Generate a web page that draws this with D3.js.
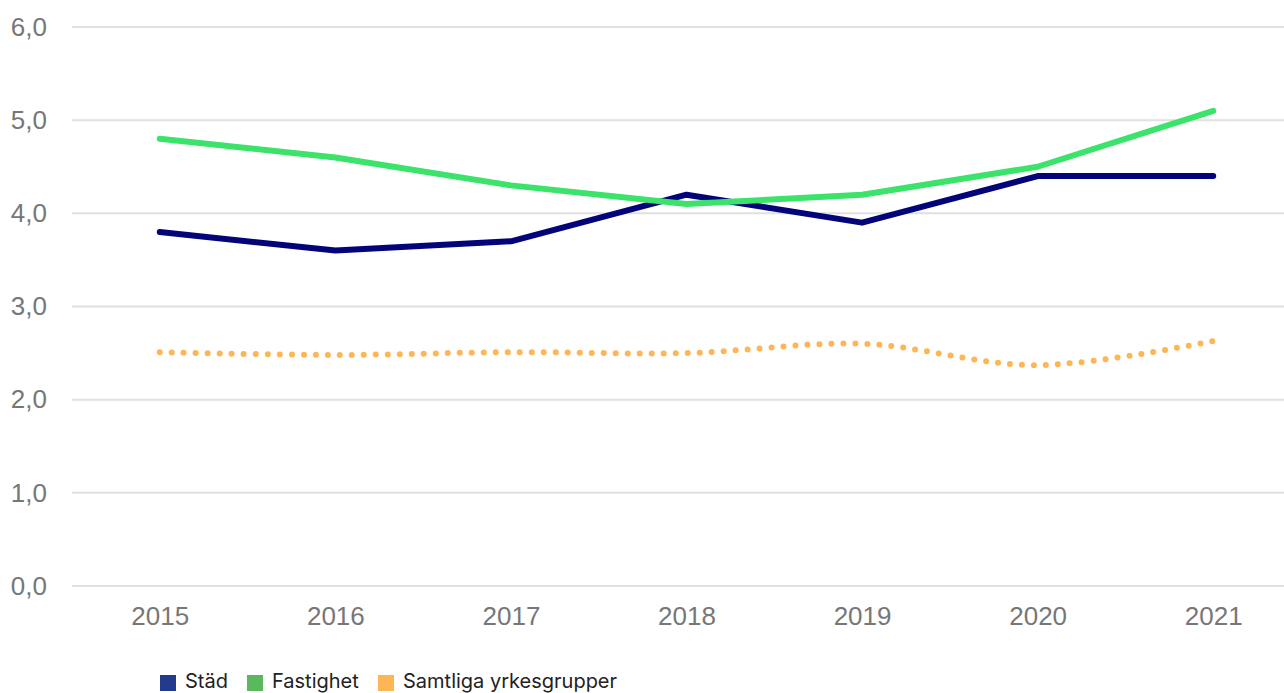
<!DOCTYPE html>
<html>
<head>
<meta charset="utf-8">
<script src="https://cdn.jsdelivr.net/npm/d3@7"></script>
<style>
  body { margin: 0; background: #fff; }
  svg { display: block; }
</style>
</head>
<body>
<svg></svg>
<script>
const years = ['2015', '2016', '2017', '2018', '2019', '2020', '2021'];
const stad = [3.8, 3.6, 3.7, 4.2, 3.9, 4.4, 4.4];
const fastighet = [4.8, 4.6, 4.3, 4.1, 4.2, 4.5, 5.1];
const samtliga = [2.51, 2.48, 2.51, 2.50, 2.60, 2.37, 2.63];
const yTicks = [0, 1, 2, 3, 4, 5, 6];
const legendNames = ['Städ', 'Fastighet', 'Samtliga yrkesgrupper'];

let w = 1284;
let h = 693;

let svg = d3.select('svg').attr('width', w).attr('height', h);

let xSc = d3.scalePoint()
            .domain(years)
            .range([72, 1301])
            .padding(0.5);

let ySc = d3.scaleLinear()
            .domain([0, 6])
            .range([586, 27]);

// gridlines
svg.append('g')
   .selectAll('line')
   .data(yTicks)
   .enter()
   .append('line')
   .attr('x1', 72)
   .attr('x2', w)
   .attr('y1', d => ySc(d))
   .attr('y2', d => ySc(d))
   .attr('stroke', '#e0e0e0')
   .attr('stroke-width', 2);

// y axis labels
let yAxis = d3.axisLeft(ySc)
              .tickValues(yTicks)
              .tickSize(0)
              .tickPadding(0)
              .tickFormat(d => d3.format('.1f')(d).replace('.', ','));
svg.append('g')
   .attr('transform', 'translate(47, 0)')
   .call(yAxis)
   .call(g => g.select('.domain').remove())
   .selectAll('text')
   .attr('fill', '#777')
   .style('font-family', 'Liberation Sans, Arial, sans-serif')
   .style('font-size', '26px');

// x axis labels
let xAxis = d3.axisBottom(xSc).tickSize(0).tickPadding(0);
svg.append('g')
   .attr('transform', 'translate(0, 607)')
   .call(xAxis)
   .call(g => g.select('.domain').remove())
   .selectAll('text')
   .attr('fill', '#777')
   .style('font-family', 'Liberation Sans, Arial, sans-serif')
   .style('font-size', '26px');

let line = d3.line()
             .x((d, i) => xSc(years[i]))
             .y(d => ySc(d));

let smooth = d3.line()
               .x((d, i) => xSc(years[i]))
               .y(d => ySc(d))
               .curve(d3.curveCatmullRom.alpha(0.5));

svg.append('path')
   .attr('d', smooth(samtliga))
   .attr('fill', 'none')
   .attr('stroke', '#ffb554')
   .attr('stroke-width', 6)
   .attr('stroke-linecap', 'round')
   .attr('stroke-dasharray', '0 12');

svg.append('path')
   .attr('d', line(stad))
   .attr('fill', 'none')
   .attr('stroke', '#03037a')
   .attr('stroke-width', 6)
   .attr('stroke-linecap', 'round')
   .attr('stroke-linejoin', 'round');

svg.append('path')
   .attr('d', line(fastighet))
   .attr('fill', 'none')
   .attr('stroke', '#3be36a')
   .attr('stroke-width', 6)
   .attr('stroke-linecap', 'round')
   .attr('stroke-linejoin', 'round');

// legend
const legendColors = ['#233a8c', '#5cb85c', '#ffb554'];
const legendX = [160, 247, 378];
let legend = svg.append('g');
legendNames.forEach((name, i) => {
  legend.append('rect')
        .attr('x', legendX[i])
        .attr('y', 675)
        .attr('width', 16)
        .attr('height', 16)
        .attr('fill', legendColors[i]);
  legend.append('text')
        .attr('x', legendX[i] + 25)
        .attr('y', 688)
        .attr('fill', '#222')
        .style('font-family', 'Inter, sans-serif')
        .style('font-size', '20px')
        .text(name);
});
</script>
</body>
</html>
